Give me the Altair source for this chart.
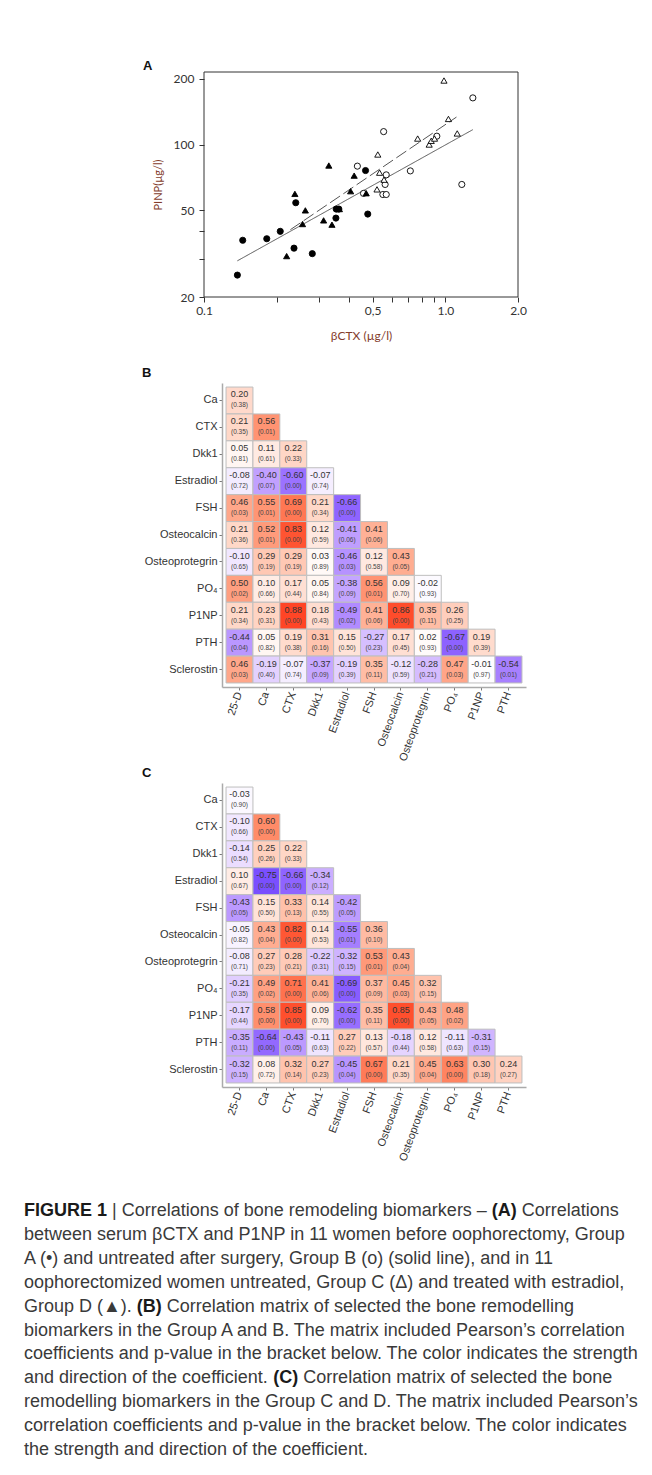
import altair as alt
import pandas as pd

FONT = "Liberation Sans"
FONT_A = "Lato"

# ---------------- Panel A values ----------------
grpA_x = [0.1375, 0.1447, 0.182, 0.207, 0.236, 0.281, 0.240, 0.352, 0.353, 0.362, 0.467, 0.477]
grpA_y = [25.2, 36.4, 37.0, 40.0, 33.5, 31.6, 54.1, 46.0, 50.6, 50.6, 76.0, 48.0]
grpB_x = [0.432, 0.458, 0.555, 0.551, 0.563, 0.569, 0.569, 0.716, 0.922, 1.17, 1.30]
grpB_y = [79.6, 59.7, 114.6, 59.0, 65.6, 72.6, 59.0, 75.7, 109.2, 65.6, 163.6]
grpC_x = [0.987, 0.525, 0.534, 0.521, 0.557, 0.768, 0.857, 0.874, 0.902, 1.03, 1.12]
grpC_y = [196.5, 90.0, 74.3, 62.3, 69.0, 106.5, 100.0, 104.0, 106.5, 131.0, 112.4]
grpD_x = [0.220, 0.238, 0.256, 0.263, 0.313, 0.329, 0.339, 0.364, 0.405, 0.419, 0.470]
grpD_y = [30.8, 59.4, 43.2, 49.9, 44.9, 80.1, 42.9, 50.6, 61.1, 72.0, 59.8]
fitAB_x = [0.1375, 1.30]
fitAB_y = [29.3, 117.0]
fitCD_x = [0.228, 1.112]
fitCD_y = [40.7, 133.6]
x_ticks = [0.1, 0.2, 0.3, 0.4, 0.5, 0.6, 0.7, 0.8, 0.9, 1.0, 2.0]
y_ticks = [20, 30, 40, 50, 100, 200]

# ---------------- Panels B / C values ----------------
rows = ["Ca", "CTX", "Dkk1", "Estradiol", "FSH", "Osteocalcin", "Osteoprotegrin",
        "PO\u2084", "P1NP", "PTH", "Sclerostin"]
cols = ["25-D", "Ca", "CTX", "Dkk1", "Estradiol", "FSH", "Osteocalcin",
        "Osteoprotegrin", "PO\u2084", "P1NP", "PTH"]

rB = [
    [0.20],
    [0.21, 0.56],
    [0.05, 0.11, 0.22],
    [-0.08, -0.40, -0.60, -0.07],
    [0.46, 0.55, 0.69, 0.21, -0.66],
    [0.21, 0.52, 0.83, 0.12, -0.41, 0.41],
    [-0.10, 0.29, 0.29, 0.03, -0.46, 0.12, 0.43],
    [0.50, 0.10, 0.17, 0.05, -0.38, 0.56, 0.09, -0.02],
    [0.21, 0.23, 0.88, 0.18, -0.49, 0.41, 0.86, 0.35, 0.26],
    [-0.44, 0.05, 0.19, 0.31, 0.15, -0.27, 0.17, 0.02, -0.67, 0.19],
    [0.46, -0.19, -0.07, -0.37, -0.19, 0.35, -0.12, -0.28, 0.47, -0.01, -0.54],
]
pB = [
    [0.38],
    [0.35, 0.01],
    [0.81, 0.61, 0.33],
    [0.72, 0.07, 0.00, 0.74],
    [0.03, 0.01, 0.00, 0.34, 0.00],
    [0.36, 0.01, 0.00, 0.59, 0.06, 0.06],
    [0.65, 0.19, 0.19, 0.89, 0.03, 0.58, 0.05],
    [0.02, 0.66, 0.44, 0.84, 0.09, 0.01, 0.70, 0.93],
    [0.34, 0.31, 0.00, 0.43, 0.02, 0.06, 0.00, 0.11, 0.25],
    [0.04, 0.82, 0.38, 0.16, 0.50, 0.23, 0.45, 0.93, 0.00, 0.39],
    [0.03, 0.40, 0.74, 0.09, 0.39, 0.11, 0.59, 0.21, 0.03, 0.97, 0.01],
]
rC = [
    [-0.03],
    [-0.10, 0.60],
    [-0.14, 0.25, 0.22],
    [0.10, -0.75, -0.66, -0.34],
    [-0.43, 0.15, 0.33, 0.14, -0.42],
    [-0.05, 0.43, 0.82, 0.14, -0.55, 0.36],
    [-0.08, 0.27, 0.28, -0.22, -0.32, 0.53, 0.43],
    [-0.21, 0.49, 0.71, 0.41, -0.69, 0.37, 0.45, 0.32],
    [-0.17, 0.58, 0.85, 0.09, -0.62, 0.35, 0.85, 0.43, 0.48],
    [-0.35, -0.64, -0.43, -0.11, 0.27, 0.13, -0.18, 0.12, -0.11, -0.31],
    [-0.32, 0.08, 0.32, 0.27, -0.45, 0.67, 0.21, 0.45, 0.63, 0.30, 0.24],
]
pC = [
    [0.90],
    [0.66, 0.00],
    [0.54, 0.26, 0.33],
    [0.67, 0.00, 0.00, 0.12],
    [0.05, 0.50, 0.13, 0.55, 0.05],
    [0.82, 0.04, 0.00, 0.53, 0.01, 0.10],
    [0.71, 0.23, 0.21, 0.31, 0.15, 0.01, 0.04],
    [0.35, 0.02, 0.00, 0.06, 0.00, 0.09, 0.03, 0.15],
    [0.44, 0.00, 0.00, 0.70, 0.00, 0.11, 0.00, 0.05, 0.02],
    [0.11, 0.00, 0.05, 0.63, 0.22, 0.57, 0.44, 0.58, 0.63, 0.15],
    [0.15, 0.72, 0.14, 0.23, 0.04, 0.00, 0.35, 0.04, 0.00, 0.18, 0.27],
]

# ---------------- Caption text (pieces: text, bold) ----------------
caption_lines = [
    [("FIGURE 1", 1), ("| Correlations of bone remodeling biomarkers \u2013", 0), ("(A)", 1), ("Correlations", 0)],
    [("between serum \u03b2CTX and P1NP in 11 women before oophorectomy, Group", 0)],
    [("A (\u2022) and untreated after surgery, Group B (o) (solid line), and in 11", 0)],
    [("oophorectomized women untreated, Group C (\u0394) and treated with estradiol,", 0)],
    [("Group D (\u25b2).", 0), ("(B)", 1), ("Correlation matrix of selected the bone remodelling", 0)],
    [("biomarkers in the Group A and B. The matrix included Pearson\u2019s correlation", 0)],
    [("coefficients and p-value in the bracket below. The color indicates the strength", 0)],
    [("and direction of the coefficient.", 0), ("(C)", 1), ("Correlation matrix of selected the bone", 0)],
    [("remodelling biomarkers in the Group C and D. The matrix included Pearson\u2019s", 0)],
    [("correlation coefficients and p-value in the bracket below. The color indicates", 0)],
    [("the strength and direction of the coefficient.", 0)],
]

CAP_SIZE = 18
# Arial / Liberation Sans advance widths (1/1000 em), used to chain text pieces on a line
_W = {" ": 278, "(": 333, ")": 333, ",": 278, "-": 333, ".": 278, "|": 260, "\u2013": 556,
      "\u2019": 222, "\u2022": 350, "\u0394": 668, "\u25b2": 990, "\u03b2": 575,
      "A": 667, "B": 667, "C": 722, "D": 722, "E": 667, "F": 611, "G": 778, "I": 278,
      "N": 722, "P": 667, "R": 722, "T": 611, "U": 722, "X": 667,
      "a": 556, "b": 556, "c": 500, "d": 556, "e": 556, "f": 278, "g": 556, "h": 556,
      "i": 222, "k": 500, "l": 222, "m": 833, "n": 556, "o": 556, "p": 556, "r": 333,
      "s": 500, "t": 278, "u": 556, "v": 500, "w": 722, "x": 500, "y": 500}
_WB = {"A": 722, "B": 722, "C": 722, "F": 611, "I": 278, "G": 778, "U": 722, "R": 722, "E": 667,
       "1": 556, " ": 278, "(": 333, ")": 333}


def text_width(s, bold):
    tbl = _WB if bold else _W
    return sum(tbl.get(ch, _W.get(ch, 556)) for ch in s) * CAP_SIZE / 1000.0


one = pd.DataFrame({"v": [0]})

# ---------------- Panel A chart ----------------
dfA = pd.DataFrame({
    "x": grpA_x + grpB_x + grpC_x + grpD_x,
    "y": grpA_y + grpB_y + grpC_y + grpD_y,
    "g": ["A"] * len(grpA_x) + ["B"] * len(grpB_x) + ["C"] * len(grpC_x) + ["D"] * len(grpD_x),
})
dfFit = pd.DataFrame({
    "x": fitAB_x + fitCD_x,
    "y": fitAB_y + fitCD_y,
    "f": ["AB", "AB", "CD", "CD"],
})

A_W, A_H, A_ROW = 314, 225, 311
sx = alt.Scale(type="log", domain=[0.1, 2.0], nice=False)
sy = alt.Scale(type="log", domain=[20, 215], nice=False, range=[A_H, 0])

xaxis = alt.Axis(
    values=x_ticks,
    labelExpr="datum.value == 0.5 ? '0,5' : (datum.value == 0.1 ? '0.1' : (datum.value == 1 ? '1.0' : (datum.value == 2 ? '2.0' : '')))",
    title="\u03b2CTX (\u00b5g/l)", grid=False, domain=False, offset=A_H - A_ROW,
    tickColor="#333", tickSize=5, tickWidth=1,
    labelFont=FONT_A, labelFontSize=12, labelColor="#333", labelPadding=3,
    labelFlush=False, labelOverlap=False,
    titleFont=FONT_A, titleFontSize=12, titleFontWeight="normal",
    titleColor="#843C2C", titlePadding=14,
)
yaxis = alt.Axis(
    values=y_ticks,
    labelExpr="(datum.value == 30 || datum.value == 40) ? '' : datum.label",
    format="d",
    title="PINP(\u00b5g/l)", grid=False, domain=False,
    tickColor="#333", tickSize=5, tickWidth=1,
    labelFont=FONT_A, labelFontSize=12, labelColor="#333", labelPadding=5,
    labelFlush=False, labelOverlap=False,
    titleFont=FONT_A, titleFontSize=11, titleFontWeight="normal",
    titleColor="#843C2C", titlePadding=10,
)

frameA = alt.Chart(one).mark_rect(fillOpacity=0, stroke="#333", strokeWidth=1).encode(
    x=alt.value(0), x2=alt.value(A_W), y=alt.value(0), y2=alt.value(A_H))
lines = alt.Chart(dfFit).mark_line(color="#555", strokeWidth=1).encode(
    x=alt.X("x:Q", scale=sx, axis=xaxis),
    y=alt.Y("y:Q", scale=sy, axis=yaxis),
    detail="f:N",
    strokeDash=alt.StrokeDash("f:N", scale=alt.Scale(domain=["AB", "CD"], range=[[1, 0], [12, 4]]), legend=None),
)
pts = alt.Chart(dfA).mark_point(size=38, stroke="black", strokeWidth=0.9, opacity=1).encode(
    x=alt.X("x:Q", scale=sx, axis=xaxis),
    y=alt.Y("y:Q", scale=sy, axis=yaxis),
    shape=alt.Shape("g:N", scale=alt.Scale(domain=["A", "B", "C", "D"],
                                           range=["circle", "circle", "triangle-up", "triangle-up"]), legend=None),
    fill=alt.Fill("g:N", scale=alt.Scale(domain=["A", "B", "C", "D"],
                                         range=["#000000", "#ffffff", "#ffffff", "#000000"]), legend=None),
)
letterA = alt.Chart(one).mark_text(text="A", align="left", baseline="alphabetic", font=FONT,
                                   fontSize=13, fontWeight="bold", color="#111").encode(
    x=alt.value(-61), y=alt.value(-2))
# invisible anchor fixing the top-left corner of the whole figure
anchor = alt.Chart(one).mark_rect(opacity=0).encode(
    x=alt.value(-196), x2=alt.value(-195), y=alt.value(-64), y2=alt.value(-63))
chartA = alt.layer(anchor, frameA, lines, pts, letterA).properties(width=A_W, height=A_ROW)


# ---------------- Correlation matrices ----------------
M_OFF, M_SIZE, M_ROW = 18, 304, 400


def matrix_df(r, p):
    recs = []
    for i, rn in enumerate(rows):
        for j in range(i + 1):
            recs.append({"row": rn, "col": cols[j], "r": r[i][j],
                         "rt": f"{r[i][j]:.2f}", "pt": f"({p[i][j]:.2f})"})
    return pd.DataFrame(recs)


def matrix_chart(df, letter):
    base = alt.Chart(df).encode(
        x=alt.X("col:N", sort=cols,
                scale=alt.Scale(paddingInner=0, paddingOuter=0.15, range=[M_OFF, M_OFF + M_SIZE]),
                axis=alt.Axis(
                    title=None, labelAngle=290, labelAlign="right", labelBaseline="middle",
                    labelFont=FONT, labelFontSize=11, labelColor="#333", labelPadding=2,
                    tickColor="#555", tickSize=3, tickWidth=0.8, offset=M_SIZE - M_ROW,
                    domainColor="#AAAAAA", domainWidth=1.5, grid=False)),
        y=alt.Y("row:N", sort=rows,
                scale=alt.Scale(paddingInner=0, paddingOuter=0.15, range=[0, M_SIZE]),
                axis=alt.Axis(
                    title=None, labelFont=FONT, labelFontSize=11, labelColor="#333", labelPadding=2,
                    tickColor="#555", tickSize=3, tickWidth=0.8, offset=-M_OFF,
                    domainColor="#AAAAAA", domainWidth=1.5, grid=False)),
    )
    rect = base.mark_rect(stroke="#BEBEBE", strokeWidth=1).encode(
        color=alt.Color("r:Q", scale=alt.Scale(domain=[-1, 0, 1], range=["blue", "white", "red"],
                                               interpolate="lab"), legend=None)
    )
    t1 = base.mark_text(dy=-6, font=FONT, fontSize=9, color="#333").encode(text="rt:N")
    t2 = base.mark_text(dy=5, font=FONT, fontSize=6.5, color="#444").encode(text="pt:N")
    lab = alt.Chart(one).mark_text(text=letter, align="left", baseline="alphabetic", font=FONT,
                                   fontSize=13, fontWeight="bold", color="#111").encode(
        x=alt.value(M_OFF - 80), y=alt.value(-6))
    return alt.layer(rect, t1, t2, lab).properties(width=M_OFF + M_SIZE, height=M_ROW)


chartB = matrix_chart(matrix_df(rB, pB), "B")
chartC = matrix_chart(matrix_df(rC, pC), "C")

# ---------------- Caption chart ----------------
cap_recs = []
for li, segs in enumerate(caption_lines):
    xs = 0.0
    for txt, b in segs:
        cap_recs.append({"line": li, "x": xs, "t": txt, "b": b})
        xs += text_width(txt + " ", b)
cap_df = pd.DataFrame(cap_recs)

cap_base = alt.Chart(cap_df).encode(
    x=alt.X("x:Q", scale=alt.Scale(domain=[0, 604], range=[-180, 424]), axis=None),
    y=alt.Y("line:Q", scale=alt.Scale(domain=[-1.17, 10.04], range=[0, 268]), axis=None),
    text="t:N",
)
cap_n = cap_base.transform_filter("datum.b == 0").mark_text(
    align="left", baseline="middle", font=FONT, fontSize=CAP_SIZE, color="#3a3a3a")
cap_b = cap_base.transform_filter("datum.b == 1").mark_text(
    align="left", baseline="middle", font=FONT, fontSize=CAP_SIZE, fontWeight="bold", color="#1a1a1a")
caption = alt.layer(cap_n, cap_b).properties(width=300, height=268)

# ---------------- Layout ----------------
chart = alt.vconcat(chartA, chartB, chartC, caption, spacing=0, bounds="flush").properties(
    padding=0, background="white"
).configure_view(stroke=None)

chart.save("out.html", embed_options={"renderer": "svg", "actions": False})
